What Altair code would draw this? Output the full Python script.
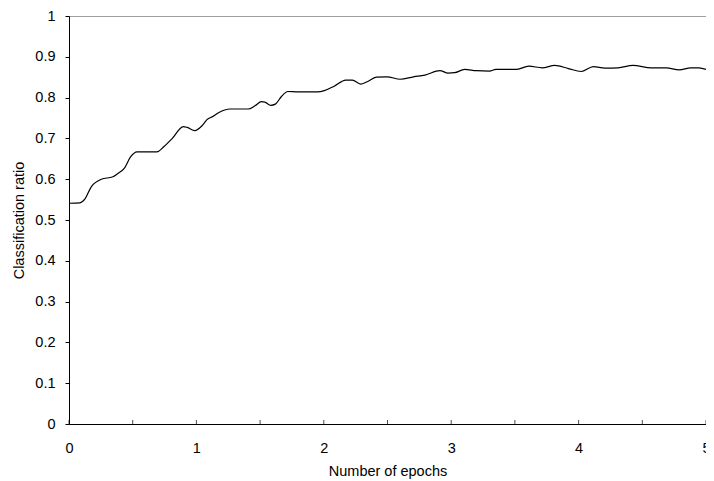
import altair as alt
import pandas as pd

# Curve
epochs = [0, 0.086, 0.124, 0.176, 0.254, 0.345, 0.384, 0.435, 0.482, 0.534, 0.69, 0.746,
          0.811, 0.897, 0.928, 0.988, 1.044, 1.083, 1.13, 1.174, 1.265, 1.407, 1.46, 1.511,
          1.537, 1.584, 1.62, 1.666, 1.718, 1.796, 1.952, 2.004, 2.082, 2.172, 2.224, 2.289,
          2.341, 2.413, 2.496, 2.6, 2.704, 2.794, 2.911, 2.976, 3.027, 3.105, 3.196, 3.30,
          3.351, 3.507, 3.61, 3.715, 3.813, 3.921, 4.02, 4.116, 4.207, 4.31, 4.427, 4.57,
          4.687, 4.79, 4.88, 4.946, 5.0]
ratio = [0.541, 0.542, 0.551, 0.582, 0.600, 0.606, 0.614, 0.627, 0.654, 0.667, 0.667, 0.680,
         0.700, 0.729, 0.727, 0.719, 0.731, 0.746, 0.754, 0.763, 0.772, 0.772, 0.780, 0.790,
         0.789, 0.781, 0.784, 0.802, 0.815, 0.814, 0.814, 0.817, 0.828, 0.843, 0.843, 0.833,
         0.839, 0.850, 0.851, 0.845, 0.851, 0.855, 0.866, 0.860, 0.861, 0.869, 0.866, 0.865,
         0.869, 0.869, 0.877, 0.873, 0.879, 0.871, 0.864, 0.876, 0.872, 0.873, 0.879, 0.873,
         0.873, 0.868, 0.873, 0.873, 0.869]

x_labels = [0, 1, 2, 3, 4, 5]
x_minor = [0, 0.5, 1, 1.5, 2, 2.5, 3, 3.5, 4, 4.5, 5]
y_ticks = [0, 0.1, 0.2, 0.3, 0.4, 0.5, 0.6, 0.7, 0.8, 0.9, 1]

df = pd.DataFrame({"epoch": epochs, "ratio": ratio})
ticks_df = pd.DataFrame({"t": x_minor})

FONT = "Liberation Sans"
FS = 14.5

xscale = alt.Scale(domain=[0, 5], nice=False, zero=False)
yscale = alt.Scale(domain=[0, 1], nice=False)

line = alt.Chart(df).mark_line(color="black", strokeWidth=1.2, interpolate="monotone").encode(
    x=alt.X("epoch:Q", scale=xscale,
            axis=alt.Axis(values=x_labels, ticks=False, grid=False, title="Number of epochs",
                          labelPadding=17, titlePadding=10, domainColor="black",
                          labelFontSize=FS, titleFontSize=FS, labelFont=FONT, titleFont=FONT,
                          titleFontWeight="normal", labelColor="black", titleColor="black",
                          labelFlush=False, format="d")),
    y=alt.Y("ratio:Q", scale=yscale,
            axis=alt.Axis(values=y_ticks, ticks=True, tickSize=4, tickColor="black", grid=False,
                          title="Classification ratio", labelPadding=10, domainColor="black",
                          labelFontSize=FS, titleFontSize=FS, labelFont=FONT, titleFont=FONT,
                          titleFontWeight="normal", labelColor="black", titleColor="black",
                          titleX=-50, titleBaseline="middle", labelFlush=False, format="~g")),
)

minor = alt.Chart(ticks_df).mark_tick(color="black", size=4, thickness=1, yOffset=-2).encode(
    x=alt.X("t:Q", scale=xscale),
    y=alt.YDatum(0),
)

chart = alt.layer(line, minor).properties(
    width=637, height=408,
    autosize=alt.AutoSizeParams(type="none"),
    padding={"left": 61, "top": 8, "right": 0, "bottom": 57},
).configure_view(stroke="#a0a0a0", strokeWidth=1).configure_tick(orient="vertical")

chart.save("out.html", embed_options={"renderer": "svg", "actions": False})
